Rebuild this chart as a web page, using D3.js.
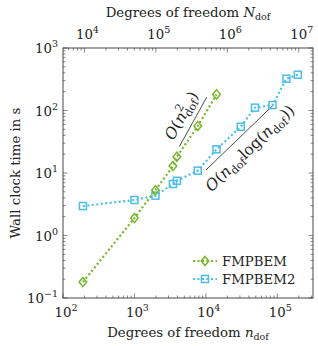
<!DOCTYPE html>
<html>
<head>
<meta charset="utf-8">
<script src="https://d3js.org/d3.v7.min.js"></script>
<style>
  body { margin: 0; background: #fff; }
</style>
</head>
<body>
<div id="my_dataviz"></div>
<script>

// data
var nDof = [190, 1000, 1970, 3460, 3930, 7700, 14100];
var timeFmp = [0.18, 1.9, 5.3, 12.9, 18.2, 56.5, 181];

var nDof2 = [190, 1000, 1970, 3460, 3930, 7700, 14100, 30800, 48700, 85700, 134000, 194000];
var timeFmp2 = [2.96, 3.7, 4.34, 6.67, 7.5, 10.9, 23.9, 55, 111, 122, 323, 374];

var xTicks = [2, 3, 4, 5];       // exponents of 10, bottom
var xTopTicks = [4, 5, 6, 7];    // exponents of 10, top
var yTicks = [-1, 0, 1, 2, 3];

// reference slopes  [n, t] pairs
var slope2 = [[4250, 26.4], [10280, 163]];
var slopeNlogN = [[10050, 11.2], [87900, 122]];

var green = "#77b52b",
    blue = "#4cbdec";

// set the dimensions and margins of the graph
var margin = {top: 48, right: 5, bottom: 48, left: 63},
    width = 250,
    height = 250;

var fs = "13.3px", fsSub = "9.5px";

var svg = d3.select("#my_dataviz")
  .append("svg")
    .attr("width", 318)
    .attr("height", 346)
    .style("font-family", "'DejaVu Serif', serif")
    .attr("fill", "#222");

var chart = svg.append("g")
    .attr("transform", "translate(" + margin.left + "," + margin.top + ")");

var k = Math.pow(10, 1.7);
var x = d3.scaleLog().domain([1e2, Math.pow(10, 5.5)]).range([0, width]);
var xTop = d3.scaleLog().domain([1e2 * k, Math.pow(10, 5.5) * k]).range([0, width]);
var y = d3.scaleLog().domain([0.1, 1000]).range([height, 0]);

// all major + minor tick values inside a domain
function logTicks(scale) {
  var d = scale.domain(), out = [];
  for (var e = Math.floor(Math.log10(d[0])); e <= Math.ceil(Math.log10(d[1])); e++) {
    for (var m = 1; m <= 9; m++) {
      var v = m * Math.pow(10, e);
      if (v >= d[0] * 0.9999 && v <= d[1] * 1.0001) out.push({v: v, major: m === 1});
    }
  }
  return out;
}

var tickG = chart.append("g").attr("stroke", "#555").attr("stroke-width", 0.7);

// bottom ticks (inward)
logTicks(x).forEach(function(t) {
  var L = t.major ? 4.5 : 2.5;
  tickG.append("line").attr("x1", x(t.v)).attr("x2", x(t.v)).attr("y1", height).attr("y2", height - L);
});
// top ticks
logTicks(xTop).forEach(function(t) {
  var L = t.major ? 4.5 : 2.5;
  tickG.append("line").attr("x1", xTop(t.v)).attr("x2", xTop(t.v)).attr("y1", 0).attr("y2", L);
});
// left + right ticks
logTicks(y).forEach(function(t) {
  var L = t.major ? 4.5 : 2.5;
  tickG.append("line").attr("x1", 0).attr("x2", L).attr("y1", y(t.v)).attr("y2", y(t.v));
  tickG.append("line").attr("x1", width).attr("x2", width - L).attr("y1", y(t.v)).attr("y2", y(t.v));
});

// frame
chart.append("rect")
    .attr("width", width)
    .attr("height", height)
    .attr("fill", "none")
    .attr("stroke", "#333")
    .attr("stroke-width", 0.9);

function powLabel(g, px, py, exp, anchor) {
  var t = g.append("text")
      .attr("x", px)
      .attr("y", py)
      .attr("text-anchor", anchor)
      .style("font-size", fs);
  t.append("tspan").text("10");
  t.append("tspan")
      .attr("dy", -6)
      .style("font-size", fsSub)
      .text(String(exp).replace("-", "\u2212"));
}

xTicks.forEach(function(e) { powLabel(chart, x(Math.pow(10, e)) + 3, height + 19, e, "middle"); });
xTopTicks.forEach(function(e) { powLabel(chart, xTop(Math.pow(10, e)) + 3, -9, e, "middle"); });
yTicks.forEach(function(e) { powLabel(chart, -5, y(Math.pow(10, e)) + 5, e, "end"); });

// axis labels
var xl = chart.append("text")
    .attr("x", width / 2)
    .attr("y", height + 39)
    .attr("text-anchor", "middle")
    .style("font-size", fs);
xl.append("tspan").text("Degrees of freedom ");
xl.append("tspan").style("font-style", "italic").text("n");
xl.append("tspan").attr("dy", 3).style("font-size", fsSub).text("dof");

var xtl = chart.append("text")
    .attr("x", width / 2)
    .attr("y", -31)
    .attr("text-anchor", "middle")
    .style("font-size", fs);
xtl.append("tspan").text("Degrees of freedom ");
xtl.append("tspan").style("font-style", "italic").text("N");
xtl.append("tspan").attr("dy", 3).style("font-size", fsSub).text("dof");

chart.append("text")
    .attr("transform", "translate(" + (-43) + "," + (height / 2) + ") rotate(-90)")
    .attr("text-anchor", "middle")
    .style("font-size", fs)
    .text("Wall clock time in s");

// slope annotations
function slopeNote(pts, off, build) {
  var p0 = [x(pts[0][0]), y(pts[0][1])], p1 = [x(pts[1][0]), y(pts[1][1])];
  chart.append("line")
      .attr("x1", p0[0]).attr("y1", p0[1])
      .attr("x2", p1[0]).attr("y2", p1[1])
      .attr("stroke", "#222")
      .attr("stroke-width", 0.8);
  var ang = Math.atan2(p1[1] - p0[1], p1[0] - p0[0]);
  var mx = (p0[0] + p1[0]) / 2 + off * Math.sin(ang),
      my = (p0[1] + p1[1]) / 2 - off * Math.cos(ang);
  var t = chart.append("text")
      .attr("transform", "translate(" + mx + "," + my + ") rotate(" + (ang * 180 / Math.PI) + ")")
      .attr("text-anchor", "middle")
      .style("font-size", "15.5px");
  build(t);
}

var noteSub = "11px";

slopeNote(slope2, 8, function(t) {
  t.append("tspan").style("font-style", "italic").text("O");
  t.append("tspan").text("(");
  t.append("tspan").style("font-style", "italic").text("n");
  t.append("tspan").attr("dy", -7).style("font-size", noteSub).text("2");
  t.append("tspan").attr("dx", -7).attr("dy", 10.5).style("font-size", noteSub).text("dof");
  t.append("tspan").attr("dy", -3.5).text(")");
});

slopeNote(slopeNlogN, -20, function(t) {
  t.append("tspan").style("font-style", "italic").text("O");
  t.append("tspan").text("(");
  t.append("tspan").style("font-style", "italic").text("n");
  t.append("tspan").attr("dy", 3.5).style("font-size", noteSub).text("dof");
  t.append("tspan").attr("dy", -3.5).text("log(");
  t.append("tspan").style("font-style", "italic").text("n");
  t.append("tspan").attr("dy", 3.5).style("font-size", noteSub).text("dof");
  t.append("tspan").attr("dy", -3.5).text("))");
});

// series
function diamond(g, cx, cy, c) {
  g.append("path")
      .attr("d", "M" + cx + "," + (cy - 4.6) + "L" + (cx + 3.8) + "," + cy + "L" + cx + "," + (cy + 4.6) + "L" + (cx - 3.8) + "," + cy + "Z")
      .attr("fill", "none")
      .attr("stroke", c)
      .attr("stroke-width", 1.5);
}
function square(g, cx, cy, c) {
  g.append("rect")
      .attr("x", cx - 3.5).attr("y", cy - 3.5)
      .attr("width", 7).attr("height", 7)
      .attr("fill", "none")
      .attr("stroke", c)
      .attr("stroke-width", 1.5);
}

function series(ns, ts, c, mark) {
  var pts = ns.map(function(n, i) { return [n, ts[i]]; });
  chart.append("path")
      .datum(pts)
      .attr("fill", "none")
      .attr("stroke", c)
      .attr("stroke-width", 2.2)
      .attr("stroke-dasharray", "2 2.5")
      .attr("d", d3.line()
        .x(function(d) { return x(d[0]); })
        .y(function(d) { return y(d[1]); }));
  pts.forEach(function(d) { mark(chart, x(d[0]), y(d[1]), c); });
}

series(nDof2, timeFmp2, blue, square);
series(nDof, timeFmp, green, diamond);

// legend
var legend = [["FMPBEM", green, diamond], ["FMPBEM2", blue, square]];
legend.forEach(function(l, i) {
  var ly = 213 + i * 18, lx = 130;
  chart.append("line")
      .attr("x1", lx).attr("x2", lx + 24)
      .attr("y1", ly).attr("y2", ly)
      .attr("stroke", l[1])
      .attr("stroke-width", 2.2)
      .attr("stroke-dasharray", "2 2.5");
  l[2](chart, lx + 12, ly, l[1]);
  chart.append("text")
      .attr("x", lx + 29)
      .attr("y", ly + 5)
      .style("font-size", fs)
      .text(l[0]);
});

</script>
</body>
</html>
